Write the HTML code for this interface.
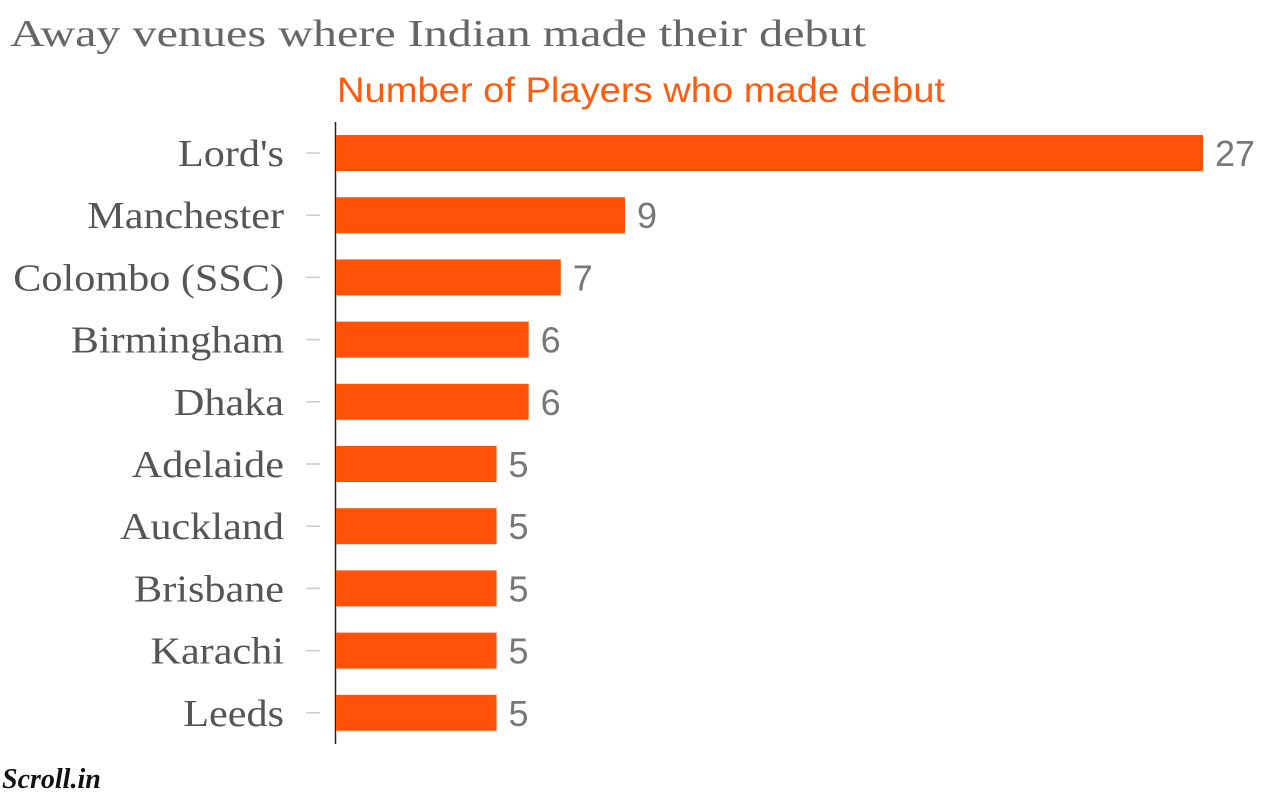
<!DOCTYPE html>
<html><head><meta charset="utf-8">
<style>
body{margin:0;width:1280px;height:796px;background:#fff;overflow:hidden;}
svg{display:block}
</style></head>
<body>
<svg id="chart" width="1280" height="796">
<text x="10" y="46" font-family="Liberation Serif, serif" font-size="38" fill="#666" textLength="856" lengthAdjust="spacingAndGlyphs">Away venues where Indian made their debut</text>
<text x="337" y="102" font-family="Liberation Sans, sans-serif" font-weight="300" font-size="35" fill="#ff5b0d" textLength="608" lengthAdjust="spacingAndGlyphs">Number of Players who made debut</text>
<line x1="335.5" y1="122" x2="335.5" y2="744" stroke="#222" stroke-width="1.5"/>
<g id="bars"></g>
<text x="2" y="788" font-family="Liberation Serif, serif" font-style="italic" font-weight="bold" font-size="28" fill="#111">Scroll.in</text>
</svg>
<script>
const categories=["Lord's","Manchester","Colombo (SSC)","Birmingham","Dhaka","Adelaide","Auckland","Brisbane","Karachi","Leeds"];
const values=[27,9,7,6,6,5,5,5,5,5];
const x0=336, pxPer=(1203-336)/27;
function xs(v){return x0+v*pxPer;}
function yc(i){return 153+i*62.2;}
const g=document.getElementById('bars');
const NS='http://www.w3.org/2000/svg';
categories.forEach((c,i)=>{
  const y=yc(i);
  const r=document.createElementNS(NS,'rect');
  r.setAttribute('x',x0);r.setAttribute('y',y-18);r.setAttribute('width',xs(values[i])-x0);r.setAttribute('height',36);r.setAttribute('fill','#ff5208');
  
  
  g.appendChild(r);
  const t=document.createElementNS(NS,'line');
  t.setAttribute('x1',306);t.setAttribute('x2',320);t.setAttribute('y1',y);t.setAttribute('y2',y);t.setAttribute('stroke','#ccc');t.setAttribute('stroke-width',1.5);
  
  
  g.appendChild(t);
  const l=document.createElementNS(NS,'text');
  l.setAttribute('x',284);l.setAttribute('y',y+13);l.setAttribute('text-anchor','end');
  l.setAttribute('font-family','Liberation Serif, serif');l.setAttribute('font-size',38);l.setAttribute('fill','#555');
  l.textContent=c;
  
  
  g.appendChild(l);
  const w=l.getComputedTextLength();
  if(w>0){l.setAttribute('textLength',w*1.11);l.setAttribute('lengthAdjust','spacingAndGlyphs');}
  const v=document.createElementNS(NS,'text');
  v.setAttribute('x',xs(values[i])+12);v.setAttribute('y',y+13);
  v.setAttribute('font-family','Liberation Sans, sans-serif');v.setAttribute('font-weight','300');v.setAttribute('font-size',36);v.setAttribute('fill','#777');
  v.textContent=values[i];
  
  
  g.appendChild(v);
});
</script>
</body></html>
